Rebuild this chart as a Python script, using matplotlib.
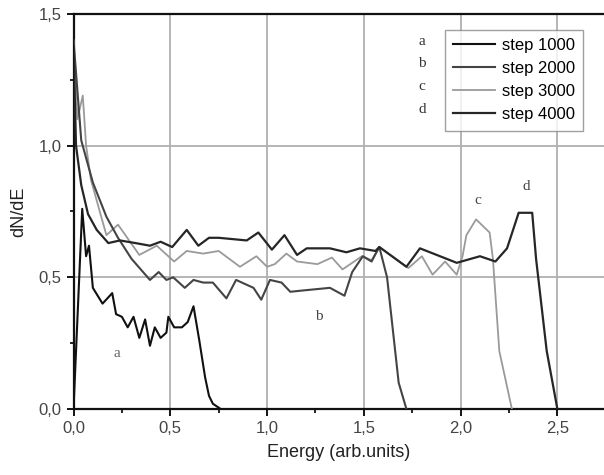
import matplotlib.pyplot as plt
from matplotlib.ticker import MultipleLocator, FuncFormatter

# dados (energia x dN/dE)
a_x = [0.0, 0.045, 0.065, 0.08, 0.10, 0.15, 0.20, 0.22, 0.25, 0.28, 0.31, 0.34, 0.37, 0.395, 0.42,
       0.45, 0.48, 0.49, 0.52, 0.56, 0.59, 0.62, 0.65, 0.68, 0.70, 0.72, 0.76]
a_y = [0.0, 0.76, 0.58, 0.62, 0.46, 0.40, 0.44, 0.36, 0.35, 0.31, 0.35, 0.27, 0.34, 0.24, 0.31,
       0.27, 0.29, 0.35, 0.31, 0.31, 0.33, 0.39, 0.26, 0.12, 0.05, 0.02, 0.0]

b_x = [0.0, 0.04, 0.1, 0.17, 0.23, 0.3, 0.395, 0.44, 0.48, 0.515, 0.575, 0.62, 0.67, 0.72, 0.79,
       0.84, 0.9, 0.93, 0.97, 1.015, 1.075, 1.12, 1.185, 1.325, 1.40, 1.44, 1.495, 1.54, 1.58,
       1.62, 1.68, 1.72]
b_y = [1.40, 1.02, 0.86, 0.73, 0.65, 0.57, 0.49, 0.52, 0.49, 0.50, 0.46, 0.49, 0.48, 0.48, 0.42,
       0.49, 0.47, 0.46, 0.415, 0.49, 0.48, 0.445, 0.45, 0.46, 0.43, 0.52, 0.58, 0.56, 0.615,
       0.50, 0.10, 0.0]

c_x = [0.0, 0.02, 0.048, 0.065, 0.09, 0.17, 0.23, 0.34, 0.43, 0.52, 0.585, 0.67, 0.75, 0.86,
       0.945, 1.0, 1.04, 1.10, 1.155, 1.26, 1.335, 1.39, 1.49, 1.54, 1.58, 1.73, 1.80, 1.855,
       1.92, 1.98, 2.01, 2.03, 2.08, 2.15, 2.167, 2.20, 2.265]
c_y = [1.40, 1.10, 1.19, 1.00, 0.87, 0.66, 0.70, 0.585, 0.62, 0.56, 0.60, 0.59, 0.60, 0.54,
       0.58, 0.54, 0.55, 0.59, 0.56, 0.55, 0.575, 0.53, 0.58, 0.565, 0.615, 0.535, 0.58, 0.51,
       0.56, 0.51, 0.58, 0.66, 0.72, 0.67, 0.57, 0.22, 0.0]

d_x = [0.0, 0.013, 0.04, 0.075, 0.12, 0.18, 0.24, 0.32, 0.395, 0.45, 0.51, 0.585, 0.645, 0.70,
       0.75, 0.895, 0.955, 1.025, 1.09, 1.155, 1.205, 1.27, 1.325, 1.41, 1.48, 1.56, 1.58, 1.72,
       1.79, 1.98, 2.10, 2.18, 2.24, 2.30, 2.37, 2.39, 2.445, 2.50]
d_y = [1.38, 1.00, 0.85, 0.74, 0.68, 0.63, 0.64, 0.63, 0.62, 0.635, 0.615, 0.68, 0.62, 0.65,
       0.65, 0.64, 0.67, 0.605, 0.66, 0.585, 0.61, 0.61, 0.61, 0.595, 0.61, 0.60, 0.615, 0.54,
       0.61, 0.555, 0.58, 0.56, 0.61, 0.745, 0.745, 0.57, 0.22, 0.0]

nomes = ['step 1000', 'step 2000', 'step 3000', 'step 4000']
letras = ['a', 'b', 'c', 'd']
letras_y = [1.394, 1.31, 1.223, 1.136]

serif = ['Liberation Serif', 'DejaVu Serif']
plt.rcParams['font.family'] = ['Liberation Sans', 'DejaVu Sans']

fig = plt.figure(figsize=(6.04, 4.75), dpi=100)
ax = fig.add_axes([0.1217, 0.139, 0.878, 0.8316])

ax.plot(a_x, a_y, color='#111111', lw=1.5, label=nomes[0], zorder=5)
ax.plot(b_x, b_y, color='#444444', lw=1.5, label=nomes[1], zorder=4)
ax.plot(c_x, c_y, color='#9a9a9a', lw=1.3, label=nomes[2], zorder=3)
ax.plot(d_x, d_y, color='#262626', lw=1.6, label=nomes[3], zorder=4)

ax.set_xlim(0, 2.74)
ax.set_ylim(0, 1.5)

ax.xaxis.set_major_locator(MultipleLocator(0.5))
ax.xaxis.set_minor_locator(MultipleLocator(0.25))
ax.yaxis.set_major_locator(MultipleLocator(0.5))
ax.yaxis.set_minor_locator(MultipleLocator(0.25))
virgula = FuncFormatter(lambda v, p: f'{v:.1f}'.replace('.', ','))
ax.xaxis.set_major_formatter(virgula)
ax.yaxis.set_major_formatter(virgula)

ax.grid(True, which='major', color='#b0b0b0', lw=1.3)
ax.set_axisbelow(True)

for s in ['left', 'bottom', 'top']:
    ax.spines[s].set_linewidth(1.6)
    ax.spines[s].set_color('#111111')
ax.spines['right'].set_visible(False)

ax.tick_params(which='major', direction='out', length=5, width=1.3, labelsize=12,
               labelcolor='#444444', top=False, right=False)
ax.tick_params(which='minor', direction='out', length=3, width=1.2, top=False, right=False)

ax.set_xlabel('Energy (arb.units)', fontsize=13, color='#222222', labelpad=6)
ax.set_ylabel('dN/dE', fontsize=13, color='#222222', labelpad=8)

leg = ax.legend(loc='upper right', bbox_to_anchor=(0.961, 0.9595), borderaxespad=0,
                fontsize=12, handlelength=2.5, handletextpad=0.4, labelspacing=0.48,
                frameon=True, fancybox=False, borderpad=0.5)
leg.get_frame().set_edgecolor('#888888')
leg.get_frame().set_linewidth(1.0)

# letras ao lado da legenda
for l, yy in zip(letras, letras_y):
    ax.text(1.80, yy, l, family=serif, fontsize=11, color='#333333', ha='center', va='center')

# letras junto as curvas
ax.text(0.225, 0.21, 'a', family=serif, fontsize=11, color='#666666', ha='center', va='center')
ax.text(1.27, 0.35, 'b', family=serif, fontsize=11, color='#444444', ha='center', va='center')
ax.text(2.09, 0.79, 'c', family=serif, fontsize=11, color='#444444', ha='center', va='center')
ax.text(2.34, 0.845, 'd', family=serif, fontsize=11, color='#444444', ha='center', va='center')

fig.savefig('out.png', dpi=100)
